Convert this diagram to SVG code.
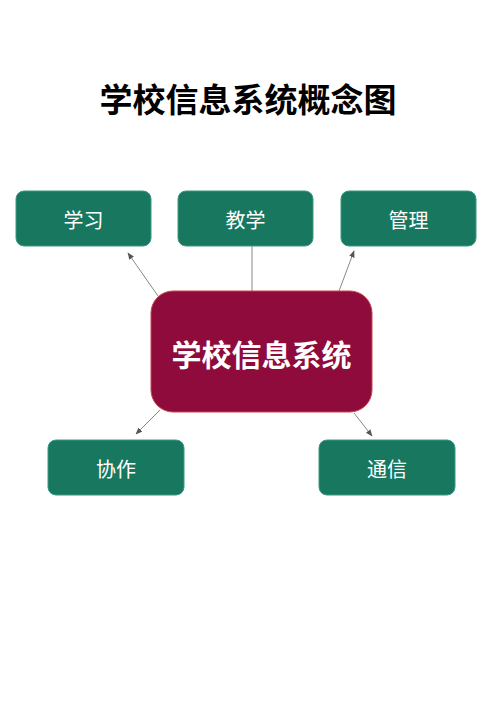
<svg xmlns="http://www.w3.org/2000/svg" width="500" height="707" viewBox="0 0 500 707">
<style>
.node rect{fill:#17785f;stroke:#3a9a7e;stroke-width:1}
.node text{fill:#ffffff;font-family:"Noto Sans CJK SC","Noto Sans",sans-serif;font-size:20px;text-anchor:middle;dominant-baseline:central}
.conn{stroke:#888888;stroke-width:1;fill:none}
</style>
<defs>
<marker id="arr" viewBox="0 0 10 10" refX="9" refY="5" markerWidth="7" markerHeight="7" orient="auto" markerUnits="userSpaceOnUse">
<path d="M0,1 L10,5 L0,9 z" fill="#555555"/>
</marker>
</defs>
<rect width="500" height="707" fill="#ffffff"/>
<text x="248" y="98" font-family="Noto Sans CJK SC,sans-serif" font-weight="bold" font-size="33" text-anchor="middle" dominant-baseline="central" fill="#000000">学校信息系统概念图</text>
<g id="connectors">
<line class="conn" x1="158" y1="296" x2="128" y2="253" marker-end="url(#arr)"/>
<line class="conn" x1="252" y1="291" x2="252" y2="246"/>
<line class="conn" x1="339" y1="291" x2="354" y2="251" marker-end="url(#arr)"/>
<line class="conn" x1="160" y1="410" x2="136" y2="434" marker-end="url(#arr)"/>
<line class="conn" x1="354" y1="413" x2="372" y2="436" marker-end="url(#arr)"/>
</g>
<g id="n-xuexi" class="node"><rect x="16" y="191" width="135" height="55" rx="8"/><text x="83.5" y="219">学习</text></g>
<g id="n-jiaoxue" class="node"><rect x="178" y="191" width="135" height="55" rx="8"/><text x="245.5" y="219">教学</text></g>
<g id="n-guanli" class="node"><rect x="341" y="191" width="135" height="55" rx="8"/><text x="408.5" y="219">管理</text></g>
<g id="n-center"><rect x="151" y="291" width="221" height="121" rx="22" fill="#8e0b3b" stroke="#c8484a" stroke-width="1"/><text x="261.5" y="353" fill="#ffffff" font-family="Noto Sans CJK SC,sans-serif" font-weight="bold" font-size="30" text-anchor="middle" dominant-baseline="central">学校信息系统</text></g>
<g id="n-xiezuo" class="node"><rect x="48" y="440" width="136" height="55" rx="8"/><text x="116" y="468">协作</text></g>
<g id="n-tongxin" class="node"><rect x="319" y="440" width="136" height="55" rx="8"/><text x="387" y="468">通信</text></g>
</svg>
